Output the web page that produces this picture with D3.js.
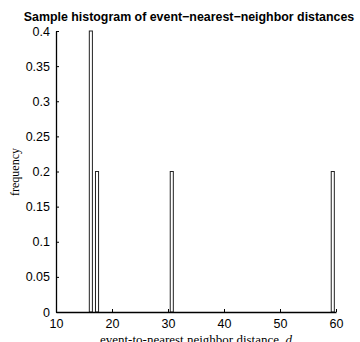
<!DOCTYPE html>
<html>
<head>
<meta charset="utf-8">
<script src="https://cdn.jsdelivr.net/npm/d3@7"></script>
<style>
  body { margin: 0; background: #fff; }
  svg { display: block; }
</style>
</head>
<body>
<div id="chart"></div>
<script>
// data
const binLeft = [15.95, 17.05, 30.4, 59.15];
const binRight = [16.5, 17.6, 30.95, 59.7];
const frequency = [0.4, 0.2, 0.2, 0.2];
const xTicks = [10, 20, 30, 40, 50, 60];
const yTicks = [0, 0.05, 0.1, 0.15, 0.2, 0.25, 0.3, 0.35, 0.4];
const yTickLabels = ["0", "0.05", "0.1", "0.15", "0.2", "0.25", "0.3", "0.35", "0.4"];

const width = 360, height = 342;
const margin = { top: 31, left: 56 };

const svg = d3.select("#chart").append("svg")
    .attr("width", width)
    .attr("height", height);

const chart = svg.append("g")
    .attr("transform", `translate(${margin.left}, ${margin.top})`);

const x = d3.scaleLinear().domain([10, 60]).range([0, 280]);
const y = d3.scaleLinear().domain([0, 0.4]).range([281, 0]);

// bars
chart.selectAll("rect.bar")
    .data(frequency)
    .enter()
    .append("rect")
    .attr("class", "bar")
    .attr("x", (d, i) => x(binLeft[i]))
    .attr("y", d => y(d))
    .attr("width", (d, i) => x(binRight[i]) - x(binLeft[i]))
    .attr("height", d => y(0) - y(d))
    .attr("fill", "#fff")
    .attr("stroke", "#222")
    .attr("stroke-width", 1);

// axes
const xAxis = chart.append("g")
    .attr("transform", `translate(0, ${y(0)})`)
    .call(d3.axisBottom(x).tickValues(xTicks).tickSizeInner(-3).tickSizeOuter(0).tickPadding(7));

const yAxis = chart.append("g")
    .call(d3.axisLeft(y).tickValues(yTicks).tickFormat((d, i) => yTickLabels[i])
        .tickSizeInner(-3).tickSizeOuter(0).tickPadding(6));

[xAxis, yAxis].forEach(a => {
    a.selectAll("text")
        .style("font-family", "'Liberation Sans', Arial, sans-serif")
        .style("font-size", "12.5px")
        .attr("fill", "#000");
    a.selectAll("line").attr("stroke", "#000");
    a.select(".domain").attr("stroke", "#000").attr("stroke-width", 1.3);
});

// title
svg.append("text")
    .attr("x", 189)
    .attr("y", 21)
    .attr("text-anchor", "middle")
    .style("font-family", "'Liberation Sans', Arial, sans-serif")
    .style("font-size", "12.4px")
    .style("font-weight", "bold")
    .text("Sample histogram of event\u2212nearest\u2212neighbor distances");

// axis labels
const xLabel = svg.append("text")
    .attr("x", 196)
    .attr("y", 344)
    .attr("text-anchor", "middle")
    .style("font-family", "'Liberation Serif', 'Times New Roman', serif")
    .style("font-size", "13px");
xLabel.append("tspan").text("event-to-nearest neighbor distance, ");
xLabel.append("tspan").style("font-style", "italic").text("d");

svg.append("text")
    .attr("transform", `translate(19, 172) rotate(-90)`)
    .attr("text-anchor", "middle")
    .style("font-family", "'Liberation Serif', 'Times New Roman', serif")
    .style("font-size", "12px")
    .text("frequency");
</script>
</body>
</html>
